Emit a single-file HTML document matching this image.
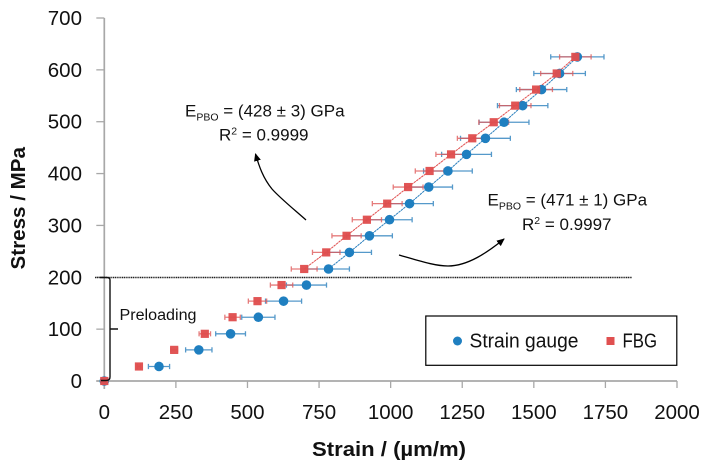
<!DOCTYPE html>
<html lang="en">
<head>
<meta charset="utf-8">
<title>Stress vs strain</title>
<style>
html,body{margin:0;padding:0;background:#fff;width:704px;height:467px;overflow:hidden}
svg{display:block;filter:blur(0.3px)}
text{font-family:"Liberation Sans",sans-serif;fill:#111}
</style>
</head>
<body>
<svg id="chart" width="704" height="467" viewBox="0 0 704 467" xmlns="http://www.w3.org/2000/svg">
  <defs>
    <marker id="arrow-head" markerWidth="9" markerHeight="9" refX="7" refY="4" orient="auto" markerUnits="userSpaceOnUse">
      <path d="M0,0.5 L8,4 L0,7.5 Z" fill="#000"/>
    </marker>
  </defs>
  <g id="axes"></g>
  <g id="marks"></g>

  <line x1="95" y1="277.5" x2="632" y2="277.5" stroke="#222" stroke-width="1.6" stroke-dasharray="1.2 0.6"/>
  <path d="M100,277.5 H107 Q110,277.5 110,280 V377 Q110,380.5 106,380.5 H101 M110,329 H118" fill="none" stroke="#111" stroke-width="1.4"/>
  <text x="119.5" y="320" font-size="15.5" textLength="77" lengthAdjust="spacingAndGlyphs">Preloading</text>

  <text x="185" y="116.5" font-size="17">E<tspan font-size="10.5" dy="4">PBO</tspan><tspan dy="-4"> = (428 ± 3) GPa</tspan></text>
  <text x="219" y="140.5" font-size="17">R<tspan font-size="10.5" dy="-6">2</tspan><tspan dy="6"> = 0.9999</tspan></text>
  <path d="M306,220 C290,206 279,197 272,189 C263,178 259,166 255.5,154" fill="none" stroke="#000" stroke-width="1.3" marker-end="url(#arrow-head)"/>

  <text x="487.5" y="205.5" font-size="17">E<tspan font-size="10.5" dy="4">PBO</tspan><tspan dy="-4"> = (471 ± 1) GPa</tspan></text>
  <text x="522" y="230" font-size="17">R<tspan font-size="10.5" dy="-6">2</tspan><tspan dy="6"> = 0.9997</tspan></text>
  <path d="M399,255 C420,261 435,266 448,266 C468,266 488,252 504,239" fill="none" stroke="#000" stroke-width="1.3" marker-end="url(#arrow-head)"/>

  <text x="312" y="456" font-size="20" font-weight="bold" textLength="154" lengthAdjust="spacingAndGlyphs">Strain / (µm/m)</text>
  <text transform="translate(25,269.5) rotate(-90)" font-size="20" font-weight="bold" textLength="122.5" lengthAdjust="spacingAndGlyphs">Stress / MPa</text>

  <g>
    <rect x="425.8" y="316" width="251" height="49.3" fill="#fff" stroke="#000" stroke-width="1.2"/>
    <circle cx="457.5" cy="341" r="4.5" fill="#1f7fc0"/>
    <text x="469.5" y="347.5" font-size="20" textLength="109" lengthAdjust="spacingAndGlyphs">Strain gauge</text>
    <rect x="606.5" y="337" width="8" height="8" fill="#e05050"/>
    <text x="622.5" y="347.5" font-size="20" textLength="34.5" lengthAdjust="spacingAndGlyphs">FBG</text>
  </g>
</svg>
<script>
const xTickValues = [0, 250, 500, 750, 1000, 1250, 1500, 1750, 2000];
const yTickValues = [0, 100, 200, 300, 400, 500, 600, 700];
const stressValues = [0, 28, 60, 91, 123, 154, 185, 216, 248, 280, 311, 342, 374, 405, 437, 468, 499, 531, 562, 593, 625];
const gaugeStrain = [0, 191, 330, 441, 538, 626, 706, 783, 856, 926, 996, 1066, 1133, 1200, 1265, 1331, 1396, 1461, 1527, 1590, 1652];
const gaugeError = [0, 37, 46, 52, 58, 63, 70, 73, 77, 80, 79, 83, 83, 85, 87, 87, 87, 88, 88, 90, 93];
const fbgStrain = [0, 121, 244, 351, 448, 535, 619, 698, 775, 846, 917, 988, 1061, 1136, 1211, 1285, 1360, 1435, 1508, 1580, 1645];
const fbgError = [0, 5, 12, 20, 27, 32, 39, 45, 48, 51, 51, 52, 52, 50, 53, 52, 52, 55, 57, 56, 55];
const fitStartIndex = 7;

const SVG_NS = 'http://www.w3.org/2000/svg';
const xScale = v => 104.3 + v * (677 - 104.3) / 2000;
const yScale = v => 381 - v * (381 - 18) / 700;
const axesLayer = document.getElementById('axes');
const marksLayer = document.getElementById('marks');

function make(tag, attrs, parent) {
  const el = document.createElementNS(SVG_NS, tag);
  for (const k in attrs) el.setAttribute(k, attrs[k]);
  parent.appendChild(el);
  return el;
}

const AXIS = '#a8a8a8';
const yAxisLine = make('line', {x1: xScale(0), x2: xScale(0), y1: yScale(700), y2: yScale(0) + 8, stroke: AXIS, 'stroke-width': 1.7}, axesLayer);


const xAxisLine = make('line', {x1: xScale(0) - 8, x2: xScale(2000), y1: yScale(0), y2: yScale(0), stroke: AXIS, 'stroke-width': 1.7}, axesLayer);



xTickValues.forEach(v => {
  const tick = make('line', {x1: xScale(v), x2: xScale(v), y1: yScale(0), y2: yScale(0) + 7, stroke: AXIS, 'stroke-width': 1.3}, axesLayer);
  
  
  const label = make('text', {x: xScale(v), y: 419, 'font-size': 20.5, 'text-anchor': 'middle'}, axesLayer);
  label.textContent = v;
  
  
});

yTickValues.forEach(v => {
  const tick = make('line', {x1: xScale(0) - 8, x2: xScale(0), y1: yScale(v), y2: yScale(v), stroke: AXIS, 'stroke-width': 1.3}, axesLayer);
  
  
  const label = make('text', {x: 82, y: yScale(v) + 7, 'font-size': 20.5, 'text-anchor': 'end'}, axesLayer);
  label.textContent = v;
  
  
});

function drawFit(strain, color, name) {
  const pts = [];
  for (let i = fitStartIndex; i < stressValues.length; i++) {
    pts.push(xScale(strain[i]) + ',' + yScale(stressValues[i]));
  }
  const line = make('polyline', {points: pts.join(' '), fill: 'none', stroke: color, 'stroke-width': 1, 'stroke-dasharray': '2.5 0.6'}, marksLayer);
  
  
}

function drawErrors(strain, errors, color, name) {
  strain.forEach((s, i) => {
    if (!errors[i]) return;
    const y = yScale(stressValues[i]);
    const x1 = xScale(s - errors[i]);
    const x2 = xScale(s + errors[i]);
    const bar = make('path', {
      d: 'M' + x1 + ',' + y + ' H' + x2 + ' M' + x1 + ',' + (y - 2.6) + ' V' + (y + 2.6) + ' M' + x2 + ',' + (y - 2.6) + ' V' + (y + 2.6),
      fill: 'none', stroke: color, 'stroke-width': 1.3, opacity: 0.8
    }, marksLayer);
    
    
  });
}

drawFit(gaugeStrain, '#2a7fbd', 'strain-gauge-fit-line');
drawFit(fbgStrain, '#e05050', 'fbg-fit-line');
drawErrors(gaugeStrain, gaugeError, '#2a7fbd', 'strain-gauge-error-bar');
drawErrors(fbgStrain, fbgError, '#df5a5a', 'fbg-error-bar');

gaugeStrain.forEach((s, i) => {
  const point = make('circle', {cx: xScale(s), cy: yScale(stressValues[i]), r: 4.8, fill: '#1f7fc0'}, marksLayer);
  
  
});

fbgStrain.forEach((s, i) => {
  const point = make('rect', {x: xScale(s) - 4.1, y: yScale(stressValues[i]) - 4.1, width: 8.2, height: 8.2, fill: '#e04e4e', opacity: 0.96}, marksLayer);
  
  
});
</script>
</body>
</html>
